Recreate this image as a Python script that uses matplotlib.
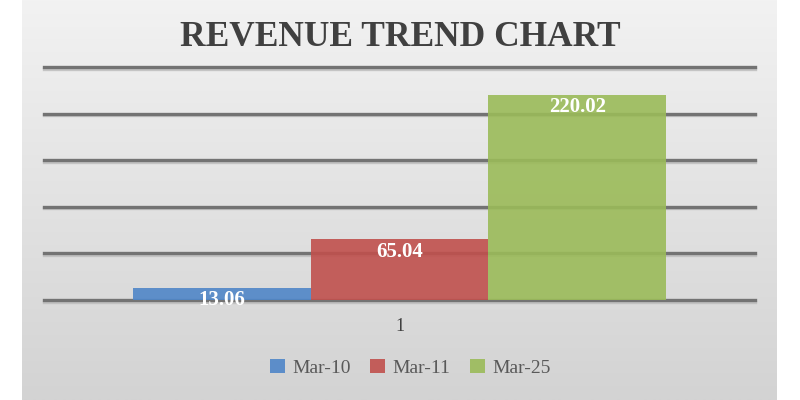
import matplotlib
matplotlib.use("Agg")
import matplotlib.pyplot as plt
import matplotlib.patheffects as pe
from matplotlib.colors import LinearSegmentedColormap
import numpy as np

categories = ["1"]
series_names = ["Mar-10", "Mar-11", "Mar-25"]
series_values = [13.06, 65.04, 220.02]
series_colors = ["#4f86c8", "#c0504d", "#9bbb59"]
value_labels = ["13.06", "65.04", "220.02"]

SERIF = ["Liberation Serif", "DejaVu Serif"]

fig = plt.figure(figsize=(8, 4), dpi=100, facecolor="white")

# gradient background panel
bg = fig.add_axes([22 / 800, 0, 755 / 800, 1], zorder=0)
grad = np.linspace(0, 1, 256).reshape(-1, 1)
cmap = LinearSegmentedColormap.from_list("g", ["#f2f2f2", "#d3d3d3"])
bg.imshow(grad, aspect="auto", cmap=cmap, extent=[0, 1, 1, 0])
bg.set_axis_off()

ax = fig.add_axes([44 / 800, 0.25, 711 / 800, 233 / 400], zorder=1)
ax.patch.set_alpha(0)

w = 0.25
n = len(series_values)
x0 = np.arange(len(categories))
for i, (name, val, col, lab) in enumerate(zip(series_names, series_values, series_colors, value_labels)):
    xpos = x0 + (i - (n - 1) / 2) * w
    bars = ax.bar(xpos, [val], width=w, color=col, alpha=0.9, label=name, zorder=3,
                  edgecolor="none")
    for b in bars:
        ax.annotate(lab, (b.get_x() + b.get_width() / 2, b.get_height()),
                    xytext=(0, -9), textcoords="offset points", ha="center", va="center",
                    color="white", fontweight="bold", fontsize=15, family=SERIF, zorder=5)

ax.set_xlim(-0.5, 0.5)
ax.set_ylim(0, 250)
ax.set_yticks(np.arange(0, 251, 50))
ax.yaxis.grid(True, color="#737373", linewidth=2.4, zorder=1,
              path_effects=[pe.SimpleLineShadow(offset=(0, -1.2), shadow_color="#bbbbbb", alpha=0.8), pe.Normal()])
for gl in ax.get_ygridlines():
    gl.set_clip_on(False)
ax.set_axisbelow(True)
ax.tick_params(axis="y", left=False, labelleft=False)
ax.set_xticks(x0)
ax.set_xticklabels(categories, family=SERIF, fontsize=13, color="#404040")
ax.tick_params(axis="x", length=0, pad=13)
for s in ax.spines.values():
    s.set_visible(False)

fig.text(0.5, 1 - 37 / 400, "REVENUE TREND CHART", ha="center", va="center",
         fontsize=25.5, fontweight="bold", family=SERIF, color="#404040")

leg = fig.legend(loc="center", bbox_to_anchor=(0.513, 1 - 368 / 400), ncol=3, frameon=False,
                 handlelength=0.75, handleheight=0.75, handletextpad=0.4, columnspacing=1.0,
                 prop={"family": SERIF, "size": 14})
for t in leg.get_texts():
    t.set_color("#595959")

fig.savefig("out.png", dpi=100, facecolor="white")
